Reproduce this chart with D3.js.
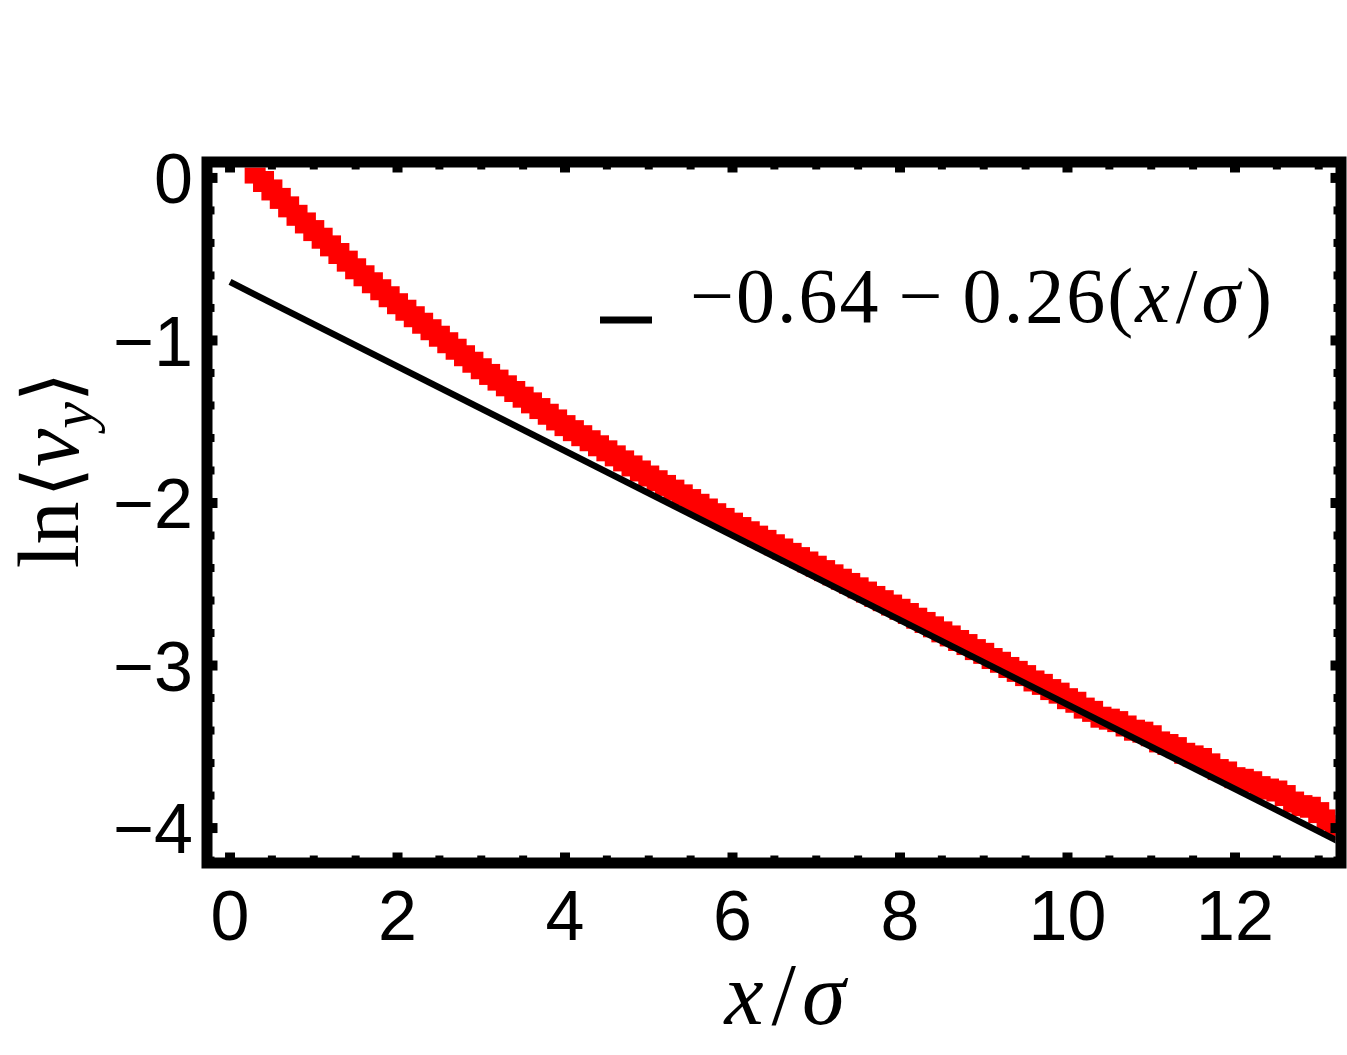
<!DOCTYPE html>
<html>
<head>
<meta charset="utf-8">
<script src="https://cdn.jsdelivr.net/npm/d3@7"></script>
<style>
  html, body { margin: 0; padding: 0; background: #fff; }
  svg { display: block; }
</style>
</head>
<body>
<div id="chart-container"></div>
<script>
let xVals = [0.3, 0.4, 0.5, 0.6, 0.7, 0.8, 0.9, 1.0, 1.1, 1.2, 1.3, 1.4, 1.5, 1.6, 1.7, 1.8, 1.9,
  2.0, 2.1, 2.2, 2.3, 2.4, 2.5, 2.6, 2.7, 2.8, 2.9, 3.0, 3.1, 3.2, 3.3, 3.4, 3.5, 3.6, 3.7, 3.8, 3.9,
  4.0, 4.1, 4.2, 4.3, 4.4, 4.5, 4.6, 4.7, 4.8, 4.9, 5.0, 5.1, 5.2, 5.3, 5.4, 5.5, 5.6, 5.7, 5.8, 5.9,
  6.0, 6.1, 6.2, 6.3, 6.4, 6.5, 6.6, 6.7, 6.8, 6.9, 7.0, 7.1, 7.2, 7.3, 7.4, 7.5, 7.6, 7.7, 7.8, 7.9,
  8.0, 8.1, 8.2, 8.3, 8.4, 8.5, 8.6, 8.7, 8.8, 8.9, 9.0, 9.1, 9.2, 9.3, 9.4, 9.5, 9.6, 9.7, 9.8, 9.9,
  10.0, 10.1, 10.2, 10.3, 10.4, 10.5, 10.6, 10.7, 10.8, 10.9, 11.0, 11.1, 11.2, 11.3, 11.4, 11.5, 11.6, 11.7, 11.8, 11.9,
  12.0, 12.1, 12.2, 12.3, 12.4, 12.5, 12.6, 12.7, 12.8, 12.9, 13.0, 13.1, 13.2, 13.3];

let lnVy = [0.030, -0.022, -0.074, -0.126, -0.178, -0.230, -0.277, -0.324, -0.371, -0.418, -0.465, -0.512, -0.559, -0.602, -0.645, -0.688, -0.731,
  -0.774, -0.814, -0.854, -0.894, -0.934, -0.974, -1.014, -1.054, -1.094, -1.134, -1.174, -1.209, -1.244, -1.279, -1.314, -1.349, -1.384, -1.419, -1.454, -1.489,
  -1.524, -1.555, -1.586, -1.617, -1.648, -1.679, -1.710, -1.741, -1.772, -1.803, -1.834, -1.863, -1.892, -1.921, -1.950, -1.979, -2.008, -2.037, -2.066, -2.095,
  -2.124, -2.151, -2.177, -2.204, -2.230, -2.257, -2.283, -2.310, -2.336, -2.363, -2.389, -2.416, -2.442, -2.469, -2.495, -2.522, -2.548, -2.575, -2.601, -2.628,
  -2.654, -2.680, -2.709, -2.735, -2.762, -2.793, -2.818, -2.846, -2.871, -2.902, -2.925, -2.957, -2.980, -3.012, -3.036, -3.062, -3.095, -3.116, -3.148, -3.170,
  -3.204, -3.226, -3.262, -3.282, -3.318, -3.330, -3.345, -3.372, -3.398, -3.410, -3.432, -3.470, -3.486, -3.505, -3.540, -3.556, -3.572, -3.605, -3.640, -3.655,
  -3.690, -3.700, -3.715, -3.745, -3.760, -3.772, -3.800, -3.840, -3.862, -3.872, -3.905, -3.950, -3.985, -4.010];

// fit: -0.64 - 0.26 (x/sigma)
let fitCoef = [-0.64, -0.26];

let xTicks = [0, 2, 4, 6, 8, 10, 12],
    xMinor = [0.5, 1, 1.5, 2.5, 3, 3.5, 4.5, 5, 5.5, 6.5, 7, 7.5, 8.5, 9, 9.5, 10.5, 11, 11.5, 12.5, 13],
    yTicks = [0, -1, -2, -3, -4],
    yMinor = [-0.2, -0.4, -0.6, -0.8, -1.2, -1.4, -1.6, -1.8, -2.2, -2.4, -2.6, -2.8, -3.2, -3.4, -3.6, -3.8, -4.2];

let W = 1347, H = 1055,
    frame = { left: 207, right: 1341, top: 162, bottom: 863 },
    frameW = 11,
    markerSize = 21;

let svg = d3.select("#chart-container").append("svg")
    .attr("width", W).attr("height", H);

let x = d3.scaleLinear().domain([-0.275, 13.266]).range([frame.left, frame.right]),
    y = d3.scaleLinear().domain([0.098, -4.215]).range([frame.top, frame.bottom]);

svg.append("clipPath").attr("id", "plot-clip")
  .append("rect")
    .attr("x", frame.left + frameW / 2).attr("y", frame.top + frameW / 2)
    .attr("width", frame.right - frame.left - frameW)
    .attr("height", frame.bottom - frame.top - frameW);

let plot = svg.append("g").attr("clip-path", "url(#plot-clip)");

let pts = xVals.map((d, i) => ({ x: d, y: lnVy[i] }));

plot.selectAll("rect.pt")
  .data(pts)
  .join("rect")
    .attr("class", "pt")
    .attr("x", d => x(d.x) - markerSize / 2)
    .attr("y", d => y(d.y) - markerSize / 2)
    .attr("width", markerSize)
    .attr("height", markerSize)
    .attr("fill", "#ff0000");

let fit = d => fitCoef[0] + fitCoef[1] * d;
let line = d3.line().x(d => x(d)).y(d => y(fit(d)));

plot.append("path")
    .datum([0, x.domain()[1]])
    .attr("fill", "none")
    .attr("stroke", "#000")
    .attr("stroke-width", 6.5)
    .attr("d", line);

// ticks on all four sides, pointing inward
let ticks = svg.append("g").attr("stroke", "#000");
let inner = frameW / 2;

function vTicks(vals, len, w) {
  vals.forEach(v => {
    ticks.append("line").attr("x1", x(v)).attr("x2", x(v))
      .attr("y1", frame.bottom).attr("y2", frame.bottom - inner - len).attr("stroke-width", w);
    ticks.append("line").attr("x1", x(v)).attr("x2", x(v))
      .attr("y1", frame.top).attr("y2", frame.top + inner + len).attr("stroke-width", w);
  });
}
function hTicks(vals, len, w) {
  vals.forEach(v => {
    ticks.append("line").attr("y1", y(v)).attr("y2", y(v))
      .attr("x1", frame.left).attr("x2", frame.left + inner + len).attr("stroke-width", w);
    ticks.append("line").attr("y1", y(v)).attr("y2", y(v))
      .attr("x1", frame.right).attr("x2", frame.right - inner - len).attr("stroke-width", w);
  });
}
vTicks(xTicks, 5, 10);
vTicks(xMinor, 2, 8);
hTicks(yTicks, 5, 10);
hTicks(yMinor, 2, 8);

svg.append("rect")
    .attr("x", frame.left).attr("y", frame.top)
    .attr("width", frame.right - frame.left)
    .attr("height", frame.bottom - frame.top)
    .attr("fill", "none")
    .attr("stroke", "#000")
    .attr("stroke-width", frameW);

// tick labels
let fmt = d3.format("d");
svg.append("g")
    .attr("font-family", "Liberation Sans, Arial, sans-serif")
    .attr("font-size", 70)
  .selectAll("text")
  .data(xTicks)
  .join("text")
    .attr("x", d => x(d))
    .attr("y", 940)
    .attr("text-anchor", "middle")
    .text(fmt);

svg.append("g")
    .attr("font-family", "Liberation Sans, Arial, sans-serif")
    .attr("font-size", 70)
  .selectAll("text")
  .data(yTicks)
  .join("text")
    .attr("x", 193)
    .attr("y", d => y(d))
    .attr("dy", "0.36em")
    .attr("text-anchor", "end")
    .text(fmt);

// axis titles
let serif = "Liberation Serif, DejaVu Serif, serif";

let xt = svg.append("text")
    .attr("font-family", serif)
    .attr("font-size", 88)
    .attr("x", 785).attr("y", 1024)
    .attr("text-anchor", "middle");
xt.append("tspan").attr("font-style", "italic").text("x");
xt.append("tspan").attr("dx", 8).text("/");
xt.append("tspan").attr("dx", 6).attr("font-style", "italic").text("σ");

let yt = svg.append("text")
    .attr("font-family", serif)
    .attr("font-size", 86)
    .attr("transform", "translate(78,470) rotate(-90)")
    .attr("text-anchor", "middle");
yt.append("tspan").text("ln");
yt.append("tspan").attr("dx", 4).attr("font-family", "DejaVu Serif, serif").attr("font-size", 78).text("\u27E8");
yt.append("tspan").attr("font-style", "italic").text("v");
yt.append("tspan").attr("font-style", "italic").attr("font-size", 60).attr("dy", 14).text("y");
yt.append("tspan").attr("dy", -14).attr("font-family", "DejaVu Serif, serif").attr("font-size", 78).text("\u27E9");

// legend
svg.append("line")
    .attr("x1", 600).attr("x2", 652)
    .attr("y1", 320).attr("y2", 320)
    .attr("stroke", "#000")
    .attr("stroke-width", 7);

let lg = svg.append("text")
    .attr("font-family", serif)
    .attr("font-size", 78)
    .attr("x", 690).attr("y", 322)
    .attr("textLength", 582)
    .attr("lengthAdjust", "spacing");
lg.append("tspan").text("\u22120.64");
lg.append("tspan").attr("dx", 18).text("\u2212");
lg.append("tspan").attr("dx", 18).text("0.26(");
lg.append("tspan").attr("font-style", "italic").text("x");
lg.append("tspan").attr("dx", 4).text("/");
lg.append("tspan").attr("dx", 2).attr("font-style", "italic").text("σ");
lg.append("tspan").attr("dx", 4).text(")");
</script>
</body>
</html>
